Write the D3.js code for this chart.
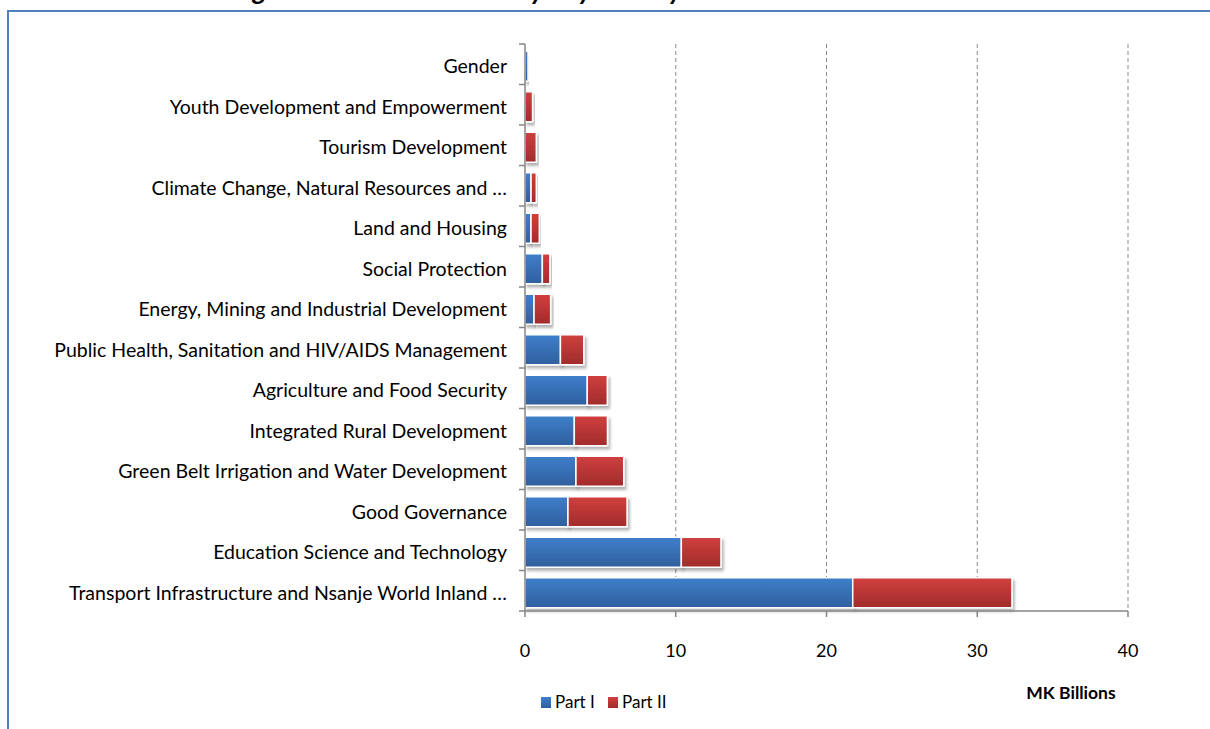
<!DOCTYPE html>
<html>
<head>
<meta charset="utf-8">
<script src="https://cdn.jsdelivr.net/npm/d3@7"></script>
<style>
  body { margin: 0; background: #fff; }
  svg { display: block; font-family: Lato, "Open Sans", sans-serif; }
</style>
</head>
<body>
<svg id="chart" width="1210" height="729"></svg>
<script>
// categories, top to bottom
var categories = [
  "Gender",
  "Youth Development and Empowerment",
  "Tourism Development",
  "Climate Change, Natural  Resources and …",
  "Land and Housing",
  "Social Protection",
  "Energy, Mining and Industrial Development",
  "Public Health, Sanitation and HIV/AIDS Management",
  "Agriculture and Food Security",
  "Integrated Rural Development",
  "Green Belt Irrigation and Water Development",
  "Good Governance",
  "Education Science and Technology",
  "Transport Infrastructure and Nsanje World Inland …"
];
// MK billions
var partI  = [0.2, 0, 0, 0.4, 0.4, 1.15, 0.6, 2.35, 4.13, 3.27, 3.38, 2.85, 10.37, 21.74];
var partII = [0, 0.5, 0.75, 0.35, 0.55, 0.5, 1.1, 1.55, 1.33, 2.2, 3.17, 3.92, 2.63, 10.56];
var xTicks = [0, 10, 20, 30, 40];
var seriesNames = ["Part I", "Part II"];

var svg = d3.select("#chart");

// title (cut off at the top of the picture)
svg.append("text")
  .attr("x", 603).attr("y", 0)
  .attr("text-anchor", "middle")
  .attr("font-size", 27).attr("font-weight", "bold").attr("font-style", "italic")
  .text("Figure 5: PSIP Allocation by Key Priority and Sub-Allocation Areas");

// chart frame
svg.append("rect")
  .attr("x", 8).attr("y", 11).attr("width", 1300).attr("height", 800)
  .attr("fill", "none").attr("stroke", "#4F81BD").attr("stroke-width", 2);

var defs = svg.append("defs");
var grads = [["gBlue", "#3F7FCB", "#2F5F9E"], ["gRed", "#D0403E", "#A12B2B"]];
grads.forEach(function(g){
  var lg = defs.append("linearGradient").attr("id", g[0])
    .attr("x1", 0).attr("y1", 0).attr("x2", 0).attr("y2", 1);
  lg.append("stop").attr("offset", "0%").attr("stop-color", g[1]);
  lg.append("stop").attr("offset", "100%").attr("stop-color", g[2]);
});
defs.append("filter").attr("id", "shadow")
  .attr("x", "-10%").attr("y", "-20%").attr("width", "130%").attr("height", "160%")
  .append("feDropShadow")
  .attr("dx", 2).attr("dy", 3).attr("stdDeviation", 1.5)
  .attr("flood-color", "#000").attr("flood-opacity", 0.3);

var plotLeft = 525, plotRight = 1128, plotTop = 44, plotBottom = 611;

var x = d3.scaleLinear().domain([0, 40]).range([plotLeft, plotRight]);
// bars sit slightly below the middle of their slot
var y = d3.scaleBand().domain(categories).range([plotTop + 2, plotBottom + 2]).paddingInner(0.26).paddingOuter(0.13);

// dashed gridlines
svg.append("g").selectAll("line")
  .data(xTicks.slice(1))
  .enter().append("line")
  .attr("x1", function(d){ return x(d); })
  .attr("x2", function(d){ return x(d); })
  .attr("y1", plotTop).attr("y2", plotBottom)
  .attr("stroke", "#8c8c8c").attr("stroke-dasharray", "4,3");

// stacked bars
var stackData = categories.map(function(c, i){ return {cat: c, a: partI[i], b: partII[i]}; });
var stack = d3.stack().keys(["a", "b"])(stackData);
var fills = ["url(#gBlue)", "url(#gRed)"];

svg.append("g").selectAll("g")
  .data(stack)
  .enter().append("g")
  .attr("fill", function(d, i){ return fills[i]; })
  .selectAll("rect")
  .data(function(d){ return d.filter(function(p){ return p[1] - p[0] > 0; }); })
  .enter().append("rect")
  .attr("x", function(d){ return x(d[0]); })
  .attr("y", function(d){ return y(d.data.cat); })
  .attr("width", function(d){ return x(d[1]) - x(d[0]); })
  .attr("height", y.bandwidth())
  .attr("stroke", "#fff").attr("stroke-width", 1.5)
  .attr("filter", "url(#shadow)");

// category axis
var yEdge = d3.scaleLinear().domain([0, categories.length]).range([plotTop, plotBottom]);
var catAxis = svg.append("g");
catAxis.append("line")
  .attr("x1", plotLeft).attr("x2", plotLeft).attr("y1", plotTop).attr("y2", plotBottom)
  .attr("stroke", "#868686").attr("stroke-width", 1.5);
catAxis.selectAll("line.tick")
  .data(d3.range(categories.length + 1))
  .enter().append("line").attr("class", "tick")
  .attr("x1", plotLeft - 6).attr("x2", plotLeft)
  .attr("y1", function(d){ return yEdge(d); })
  .attr("y2", function(d){ return yEdge(d); })
  .attr("stroke", "#868686").attr("stroke-width", 1.5);
catAxis.selectAll("text")
  .data(categories)
  .enter().append("text")
  .attr("x", 507)
  .attr("y", function(d){ return y(d) + y.bandwidth() / 2 + 7; })
  .attr("text-anchor", "end")
  .attr("font-size", 19.5).attr("fill", "#000")
  .text(function(d){ return d; });

// value axis
var valAxis = svg.append("g");
valAxis.append("line")
  .attr("x1", plotLeft).attr("x2", plotRight).attr("y1", plotBottom).attr("y2", plotBottom)
  .attr("stroke", "#868686").attr("stroke-width", 1.5);
valAxis.selectAll("line.tick")
  .data(xTicks)
  .enter().append("line").attr("class", "tick")
  .attr("x1", function(d){ return x(d); })
  .attr("x2", function(d){ return x(d); })
  .attr("y1", plotBottom).attr("y2", plotBottom + 6)
  .attr("stroke", "#868686").attr("stroke-width", 1.5);
valAxis.selectAll("text")
  .data(xTicks)
  .enter().append("text")
  .attr("x", function(d){ return x(d); })
  .attr("y", 657)
  .attr("text-anchor", "middle")
  .attr("font-size", 18)
  .text(function(d){ return d; });

// axis title
svg.append("text")
  .attr("x", 1071).attr("y", 699)
  .attr("text-anchor", "middle")
  .attr("font-size", 17.5).attr("font-weight", "bold")
  .text("MK Billions");

// legend
var legend = svg.append("g").selectAll("g")
  .data(seriesNames)
  .enter().append("g")
  .attr("transform", function(d, i){ return "translate(" + [541 + i * 67, 697] + ")"; });
legend.append("rect")
  .attr("width", 10).attr("height", 11)
  .attr("fill", function(d, i){ return fills[i]; });
legend.append("text")
  .attr("x", 14).attr("y", 11)
  .attr("font-size", 17)
  .text(function(d){ return d; });
</script>
</body>
</html>
